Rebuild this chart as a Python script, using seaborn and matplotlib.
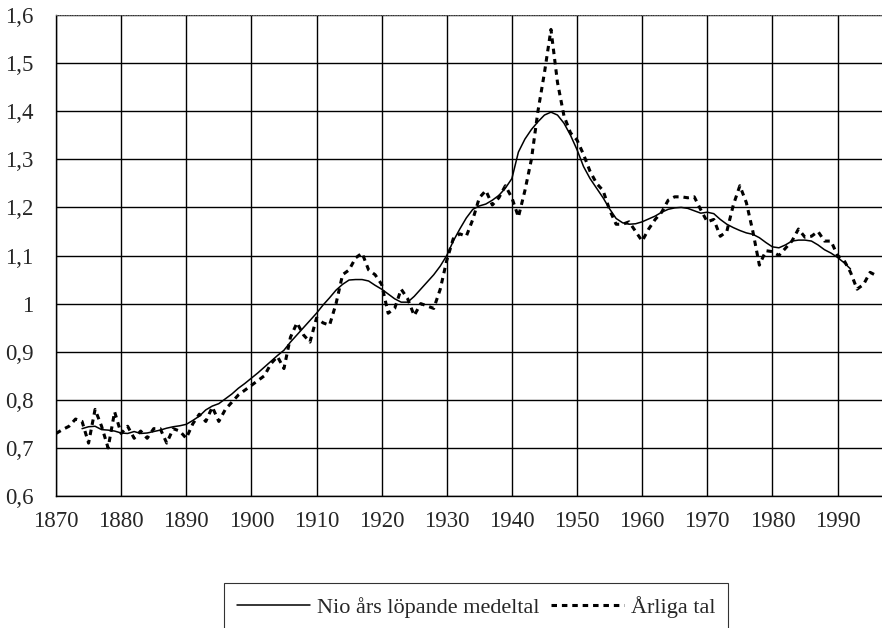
import matplotlib
matplotlib.use("Agg")
import matplotlib.pyplot as plt
import seaborn as sns
import pandas as pd
from matplotlib.ticker import FixedLocator, FuncFormatter

# ---- data ----
annual_years = list(range(1870, 1997))
annual_values = [
    0.730, 0.738, 0.745, 0.760, 0.755, 0.710, 0.780, 0.745, 0.700, 0.775,  # 1870-1879
    0.730, 0.745, 0.720, 0.735, 0.720, 0.740, 0.740, 0.710, 0.740, 0.735,  # 1880-1889
    0.720, 0.750, 0.770, 0.755, 0.785, 0.755, 0.780, 0.795, 0.810, 0.820,  # 1890-1899
    0.830, 0.840, 0.850, 0.875, 0.890, 0.865, 0.930, 0.960, 0.935, 0.920,  # 1900-1909
    0.970, 0.960, 0.955, 1.000, 1.060, 1.070, 1.095, 1.105, 1.070, 1.060,  # 1910-1919
    1.040, 0.980, 0.990, 1.030, 1.010, 0.975, 1.000, 0.995, 0.990, 1.030,  # 1920-1929
    1.090, 1.135, 1.145, 1.140, 1.175, 1.220, 1.235, 1.205, 1.220, 1.245,  # 1930-1939
    1.220, 1.180, 1.235, 1.300, 1.400, 1.480, 1.570, 1.460, 1.390, 1.355,  # 1940-1949
    1.340, 1.310, 1.275, 1.250, 1.235, 1.195, 1.165, 1.165, 1.170, 1.150,  # 1950-1959
    1.130, 1.155, 1.175, 1.190, 1.215, 1.222, 1.222, 1.220, 1.222, 1.195,  # 1960-1969
    1.170, 1.175, 1.140, 1.150, 1.205, 1.245, 1.210, 1.150, 1.080, 1.110,  # 1970-1979
    1.108, 1.100, 1.115, 1.130, 1.155, 1.138, 1.140, 1.150, 1.130, 1.130,  # 1980-1989
    1.100, 1.090, 1.065, 1.030, 1.040, 1.065, 1.058,                       # 1990-1996
]

ma_years = list(range(1874, 1993))
ma_values = [
    0.740, 0.744, 0.745, 0.738, 0.737, 0.735,                              # 1874-1879
    0.731, 0.730, 0.734, 0.730, 0.731, 0.734, 0.737, 0.741, 0.744, 0.746,  # 1880-1889
    0.749, 0.757, 0.766, 0.779, 0.787, 0.792, 0.802, 0.812, 0.824, 0.834,  # 1890-1899
    0.845, 0.856, 0.868, 0.880, 0.892, 0.903, 0.920, 0.935, 0.950, 0.965,  # 1900-1909
    0.980, 0.997, 1.012, 1.028, 1.040, 1.049, 1.050, 1.050, 1.047, 1.038,  # 1910-1919
    1.030, 1.020, 1.010, 1.003, 1.003, 1.015, 1.030, 1.045, 1.060, 1.078,  # 1920-1929
    1.100, 1.130, 1.155, 1.178, 1.196, 1.203, 1.207, 1.215, 1.225, 1.240,  # 1930-1939
    1.260, 1.315, 1.342, 1.362, 1.378, 1.392, 1.398, 1.392, 1.375, 1.350,  # 1940-1949
    1.320, 1.285, 1.260, 1.240, 1.220, 1.197, 1.177, 1.168, 1.165, 1.166,  # 1950-1959
    1.170, 1.176, 1.182, 1.190, 1.196, 1.199, 1.200, 1.198, 1.193, 1.188,  # 1960-1969
    1.190, 1.187, 1.175, 1.165, 1.158, 1.152, 1.147, 1.144, 1.137, 1.127,  # 1970-1979
    1.118, 1.116, 1.122, 1.130, 1.132, 1.132, 1.130, 1.122, 1.112, 1.105,  # 1980-1989
    1.096, 1.085, 1.072,                                                   # 1990-1992
]

x_ticks = list(range(1870, 2000, 10))
y_ticks = [0.6, 0.7, 0.8, 0.9, 1.0, 1.1, 1.2, 1.3, 1.4, 1.5, 1.6]

label_ma = "Nio års löpande medeltal"
label_annual = "Årliga tal"

df_annual = pd.DataFrame({"year": annual_years, "value": annual_values})
df_ma = pd.DataFrame({"year": ma_years, "value": ma_values})

# ---- style ----
sns.set_style("white")
plt.rcParams["font.family"] = ["Liberation Serif", "DejaVu Serif"]

fig = plt.figure(figsize=(8.82, 6.28), dpi=100)
ax = fig.add_axes([56 / 882, 1 - 496 / 628, 1 - 56 / 882 + 0.002, (496 - 15) / 628])

sns.lineplot(data=df_ma, x="year", y="value", ax=ax, color="black",
             linewidth=1.1, label=label_ma, zorder=3)
sns.lineplot(data=df_annual, x="year", y="value", ax=ax, color="black",
             linewidth=2.2, linestyle=(0, (1.8, 1.6)), label=label_annual, zorder=4)

ax.set_xlim(1870, 1997.1)
ax.set_ylim(0.6, 1.6)
ax.xaxis.set_major_locator(FixedLocator(x_ticks))
ax.yaxis.set_major_locator(FixedLocator(y_ticks))
ax.yaxis.set_major_formatter(FuncFormatter(
    lambda v, p: ("%g" % round(v, 1)).replace(".", ",")))
ax.xaxis.set_major_formatter(FuncFormatter(lambda v, p: "%d" % v))

ax.grid(True, color="black", linewidth=1.0)
ax.set_axisbelow(True)
ax.set_xlabel("")
ax.set_ylabel("")

for s in ["left", "bottom"]:
    ax.spines[s].set_color("black")
    ax.spines[s].set_linewidth(1.0)
ax.spines["right"].set_visible(False)
ax.spines["top"].set_color("#666666")
ax.spines["top"].set_linewidth(0.7)
ax.spines["top"].set_linestyle((0, (1, 1.5)))

ax.tick_params(axis="both", which="major", direction="out", length=6,
               width=1.0, color="black", labelsize=16.5)
ax.tick_params(axis="y", pad=10)
ax.tick_params(axis="x", pad=5)

leg = ax.legend(loc="upper center", bbox_to_anchor=(476 / 882, 1 - 583 / 628),
                bbox_transform=fig.transFigure, ncol=2, fontsize=16,
                frameon=True, fancybox=False, edgecolor="black",
                handlelength=3.3, handletextpad=0.3, columnspacing=0.5,
                borderpad=0.6, borderaxespad=0)
leg.get_frame().set_linewidth(0.8)

fig.savefig("out.png", dpi=100)
